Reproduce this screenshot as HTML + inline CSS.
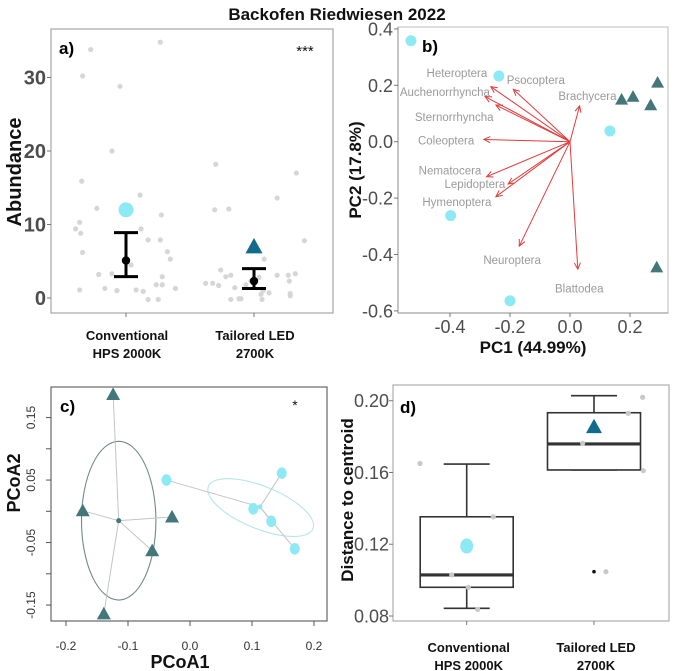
<!DOCTYPE html>
<html><head><meta charset="utf-8"><style>
html,body{margin:0;padding:0;background:#fff;}
svg{display:block;font-family:"Liberation Sans",sans-serif;}
</style></head><body>
<svg id="fig" width="675" height="671" viewBox="0 0 675 671">
<text x="337" y="20" text-anchor="middle" font-size="17" font-weight="bold" fill="#111">Backofen Riedwiesen 2022</text>
<g id="pa"></g>
<g id="pb"></g>
<g id="pc"></g>
<g id="pd"></g>
</svg>
<script>
const NS="http://www.w3.org/2000/svg";
function mk(p,tag,at,txt){const e=document.createElementNS(NS,tag);for(const k in at)e.setAttribute(k,at[k]);if(txt!==undefined)e.textContent=txt;p.appendChild(e);return e;}
function tri(p,cx,cy,s,fill){return mk(p,'polygon',{points:`${cx},${cy-s} ${cx-s},${cy+s*0.8} ${cx+s},${cy+s*0.8}`,fill:fill});}

// ---------- Panel a data ----------
const aCategories=["Conventional","Tailored LED"];
const aCatLine2=["HPS 2000K","2700K"];
const aTicks=[0,10,20,30];
const aMean=[5.1,2.3];
const aLow=[2.9,1.3];
const aHigh=[8.9,4.0];
const aMarker=[12,7];
const aConvVals=[33.8,30.2,28.8,20,15.9,14,12.2,10.3,9.4,8.8,9.4,7.9,7.9,11.3,6.2,6.3,5.3,4.5,3.2,3.3,2.9,1.3,1,1.1,0.9,1.8,1.8,1.3,1.1,-0.2,-0.2,34.8];
const aConvJit=[-0.276,-0.339,-0.047,-0.11,-0.346,0.11,-0.228,-0.362,-0.394,-0.354,0.118,0.173,0.268,0.276,-0.339,0.323,0.346,0.039,-0.213,-0.11,0.283,-0.165,-0.071,0.079,0.134,0.236,0.283,0.386,-0.362,0.173,0.252,0.268];
const aLedVals=[18.2,12,12.1,13.6,17,7.8,5.3,2,2,1.7,3.8,2.9,3.1,1.4,-0.2,-0.1,-0.1,2.3,2.8,1,0.5,0.7,-0.2,3.1,3.1,2.3,3.3,0.6,0.3,1.8];
const aLedJit=[-0.299,-0.307,-0.197,0.181,0.331,0.394,0.079,-0.378,-0.323,-0.276,-0.26,-0.22,-0.181,-0.15,-0.181,-0.118,-0.102,-0.024,0.039,0.071,0.055,0.118,0.063,0.181,0.268,0.276,0.323,0.283,0.283,-0.063];

// ---------- Panel b data ----------
const bTicksX=[-0.4,-0.2,0.0,0.2];
const bTicksY=[0.4,0.2,0.0,-0.2,-0.4,-0.6];
const bCircX=[-0.53,-0.237,0.133,-0.398,-0.2];
const bCircY=[0.358,0.233,0.038,-0.262,-0.564];
const bTriX=[0.172,0.21,0.269,0.292,0.289];
const bTriY=[0.15,0.16,0.13,0.21,-0.445];
const bTaxa=["Heteroptera","Psocoptera","Auchenorrhyncha","Sternorrhyncha","Coleoptera","Nematocera","Lepidoptera","Hymenoptera","Neuroptera","Blattodea","Brachycera"];
const bArrX=[-0.264,-0.189,-0.283,-0.247,-0.287,-0.278,-0.206,-0.247,-0.169,0.026,0.032];
const bArrY=[0.195,0.186,0.16,0.13,0.008,-0.124,-0.15,-0.195,-0.37,-0.452,0.127];
const bLabX=[-0.377,-0.114,-0.417,-0.386,-0.413,-0.4,-0.317,-0.377,-0.193,0.031,0.058];
const bLabY=[0.243,0.219,0.177,0.088,0.004,-0.102,-0.150,-0.213,-0.419,-0.52,0.162];

// ---------- Panel c data ----------
const cTicksX=[-0.2,-0.1,0.0,0.1,0.2];
const cTicksY=[0.15,0.05,-0.05,-0.15];
const cTicksYMinor=[0.1,0,-0.1];
const cTriX=[-0.124,-0.173,-0.029,-0.061,-0.139];
const cTriY=[0.187,0.001,-0.009,-0.063,-0.164];
const cTriCentroid=[-0.115,-0.015];
const cCircX=[-0.038,0.148,0.102,0.131,0.169];
const cCircY=[0.05,0.061,0.004,-0.016,-0.06];
const cCircCentroid=[0.113,0.007];
const cTriEllipse=[-0.115,-0.015,0.06,0.127,0];
const cCircEllipse=[0.114,0.006,0.091,0.034,22];

// ---------- Panel d data ----------
const dCategories=["Conventional","Tailored LED"];
const dCatLine2=["HPS 2000K","2700K"];
const dTicks=[0.08,0.12,0.16,0.20];
const dWhiskLo=[0.0843,0.1614];
const dQ1=[0.096,0.1614];
const dMedian=[0.1029,0.1759];
const dQ3=[0.1353,0.1933];
const dWhiskHi=[0.1647,0.2028];
const dOutlier=[null,0.1047];
const dMeanMarker=[0.119,0.1855];
const dConvVals=[0.165,0.1353,0.1029,0.096,0.0837];
const dConvJit=[-0.367,0.209,-0.118,0.013,0.086];
const dLedVals=[0.2019,0.193,0.1763,0.161,0.1047];
const dLedJit=[0.382,0.269,-0.089,0.387,0.094];

const CYAN="#8de9f4", TEAL="#44777a", BLUE="#106b8c", GRAY="#d6d6d6";

// ===== Panel a =====
(function(){
const g=document.getElementById('pa');
const L=51,T=29,R=333,B=313;
const ya=v=>298-7.35*v, xa=i=>126+i*128;
mk(g,'rect',{x:L,y:T,width:R-L,height:B-T,fill:'none',stroke:'#a6a6a6','stroke-width':1.2});
aTicks.forEach(t=>{
 mk(g,'line',{x1:L-4,x2:L,y1:ya(t),y2:ya(t),stroke:'#777'});
 const e=mk(g,'text',{x:46,y:ya(t)+7,'text-anchor':'end','font-size':20,'font-weight':'bold',fill:'#4d4d4d'},String(t));
 
 
});
const at=mk(g,'text',{transform:'translate(21,172) rotate(-90)','text-anchor':'middle','font-size':20,'font-weight':'bold',fill:'#111'},'Abundance');


aCategories.forEach((c,i)=>{
 mk(g,'line',{x1:xa(i),x2:xa(i),y1:B,y2:B+4,stroke:'#777'});
 const t1=mk(g,'text',{x:xa(i)+1,y:340,'text-anchor':'middle','font-size':13,'font-weight':'bold',fill:'#111'},c);
 
 
 const t2=mk(g,'text',{x:xa(i)+1,y:358,'text-anchor':'middle','font-size':13,'font-weight':'bold',fill:'#111'},aCatLine2[i]);
 
 
});
aConvVals.forEach((v,k)=>{const p=mk(g,'circle',{cx:xa(0+aConvJit[k]),cy:ya(v),r:2.6,fill:GRAY});
 
 });
aLedVals.forEach((v,k)=>{const p=mk(g,'circle',{cx:xa(1+aLedJit[k]),cy:ya(v),r:2.6,fill:GRAY});
 
 });
aMean.forEach((m,i)=>{
 const x=xa(i);
 const eb=mk(g,'g',{});
 
 
 mk(eb,'line',{x1:x,x2:x,y1:ya(aLow[i]),y2:ya(aHigh[i]),stroke:'#000','stroke-width':3});
 mk(eb,'line',{x1:x-12,x2:x+12,y1:ya(aLow[i]),y2:ya(aLow[i]),stroke:'#000','stroke-width':3});
 mk(eb,'line',{x1:x-12,x2:x+12,y1:ya(aHigh[i]),y2:ya(aHigh[i]),stroke:'#000','stroke-width':3});
 mk(eb,'circle',{cx:x,cy:ya(m),r:4.2,fill:'#000'});
});
const mc=mk(g,'circle',{cx:xa(0),cy:ya(aMarker[0]),r:7.5,fill:CYAN});


const mt=tri(g,xa(1),ya(aMarker[1]),8.5,BLUE);


const lab=mk(g,'text',{x:59,y:54,'font-size':17,'font-weight':'bold',fill:'#000'},'a)');


const sg=mk(g,'text',{x:305,y:56,'text-anchor':'middle','font-size':15,fill:'#111'},'***');


})();

// ===== Panel b =====
(function(){
const g=document.getElementById('pb');
const L=398,T=27,R=668,B=313;
const xb=v=>570+300*v, yb=v=>141.7-282*v;
mk(g,'rect',{x:L,y:T,width:R-L,height:B-T,fill:'none',stroke:'#bdbdbd','stroke-width':1});
mk(g,'line',{x1:L,x2:L,y1:T,y2:B,stroke:'#888'});
mk(g,'line',{x1:L,x2:R,y1:B,y2:B,stroke:'#888'});
bTicksY.forEach(t=>{
 mk(g,'line',{x1:L-4,x2:L,y1:yb(t),y2:yb(t),stroke:'#777'});
 const e=mk(g,'text',{x:393,y:yb(t)+6.5,'text-anchor':'end','font-size':18,fill:'#4d4d4d'},t.toFixed(1));
 
 
});
bTicksX.forEach(t=>{
 mk(g,'line',{x1:xb(t),x2:xb(t),y1:B,y2:B+4,stroke:'#777'});
 const e=mk(g,'text',{x:xb(t),y:333,'text-anchor':'middle','font-size':18,fill:'#4d4d4d'},t.toFixed(1));
 
 
});
const xt=mk(g,'text',{x:533,y:353,'text-anchor':'middle','font-size':17,'font-weight':'bold',fill:'#111'},'PC1 (44.99%)');


const yt=mk(g,'text',{transform:'translate(361,170) rotate(-90)','text-anchor':'middle','font-size':17,'font-weight':'bold',fill:'#111'},'PC2 (17.8%)');


const ox=xb(0),oy=yb(0);
bTaxa.forEach((n,i)=>{
 const ex=xb(bArrX[i]),ey=yb(bArrY[i]);
 const ag=mk(g,'g',{stroke:'#e33b3b','stroke-width':1,fill:'none'});
 
 
 mk(ag,'line',{x1:ox,y1:oy,x2:ex,y2:ey});
 const a=Math.atan2(ey-oy,ex-ox),h=7,w=0.45;
 mk(ag,'polyline',{points:`${ex-h*Math.cos(a-w)},${ey-h*Math.sin(a-w)} ${ex},${ey} ${ex-h*Math.cos(a+w)},${ey-h*Math.sin(a+w)}`});
 const t=mk(g,'text',{x:xb(bLabX[i]),y:yb(bLabY[i])+4,'text-anchor':'middle','font-size':11.5,fill:'#9a9a9a'},n);
 
 
});
bCircX.forEach((x,i)=>{const p=mk(g,'circle',{cx:xb(x),cy:yb(bCircY[i]),r:5.5,fill:CYAN});
 
 });
bTriX.forEach((x,i)=>{const p=tri(g,xb(x),yb(bTriY[i]),6.5,TEAL);
 
 });
const lab=mk(g,'text',{x:422,y:52,'font-size':17,'font-weight':'bold',fill:'#000'},'b)');


})();

// ===== Panel c =====
(function(){
const g=document.getElementById('pc');
const L=51,T=387,R=327,B=621;
const xc=v=>190+620*v, yc=v=>511.3-625*v;
mk(g,'rect',{x:L,y:T,width:R-L,height:B-T,fill:'none',stroke:'#666','stroke-width':1.2});
cTicksX.forEach(t=>{
 mk(g,'line',{x1:xc(t),x2:xc(t),y1:B,y2:B+5,stroke:'#555'});
 const e=mk(g,'text',{x:xc(t),y:650,'text-anchor':'middle','font-size':12,fill:'#333'},t.toFixed(1));
 
 
});
cTicksYMinor.forEach(t=>mk(g,'line',{x1:L-5,x2:L,y1:yc(t),y2:yc(t),stroke:'#555'}));
cTicksY.forEach(t=>{
 mk(g,'line',{x1:L-5,x2:L,y1:yc(t),y2:yc(t),stroke:'#555'});
 const e=mk(g,'text',{transform:`translate(35,${yc(t)}) rotate(-90)`,'text-anchor':'middle','font-size':12,fill:'#333'},t.toFixed(2));
 
 
});
const xt=mk(g,'text',{x:180,y:668,'text-anchor':'middle','font-size':18,'font-weight':'bold',fill:'#111'},'PCoA1');


const yt=mk(g,'text',{transform:'translate(20,483) rotate(-90)','text-anchor':'middle','font-size':18,'font-weight':'bold',fill:'#111'},'PCoA2');


function ell(e,col){const el=mk(g,'ellipse',{cx:0,cy:0,rx:e[2]*620,ry:e[3]*625,fill:'none',stroke:col,'stroke-width':1.1,transform:`translate(${xc(e[0])},${yc(e[1])}) rotate(${e[4]})`});return el;}
const e1=ell(cTriEllipse,'#6f8a8b');


const e2=ell(cCircEllipse,'#b5e6ea');


cTriX.forEach((x,i)=>mk(g,'line',{x1:xc(cTriCentroid[0]),y1:yc(cTriCentroid[1]),x2:xc(x),y2:yc(cTriY[i]),stroke:'#c4c4c4','stroke-width':1}));
cCircX.forEach((x,i)=>mk(g,'line',{x1:xc(cCircCentroid[0]),y1:yc(cCircCentroid[1]),x2:xc(x),y2:yc(cCircY[i]),stroke:'#c4c4c4','stroke-width':1}));
const c1=mk(g,'circle',{cx:xc(cTriCentroid[0]),cy:yc(cTriCentroid[1]),r:2.5,fill:TEAL});


const c2=mk(g,'circle',{cx:xc(cCircCentroid[0]),cy:yc(cCircCentroid[1]),r:2.5,fill:CYAN});


cTriX.forEach((x,i)=>{const p=tri(g,xc(x),yc(cTriY[i]),7,TEAL);
 
 });
cCircX.forEach((x,i)=>{const p=mk(g,'ellipse',{cx:xc(x),cy:yc(cCircY[i]),rx:5,ry:5.8,fill:CYAN});
 
 });
const lab=mk(g,'text',{x:60,y:412,'font-size':17,'font-weight':'bold',fill:'#000'},'c)');


const sg=mk(g,'text',{x:295,y:410,'text-anchor':'middle','font-size':14,fill:'#111'},'*');


})();

// ===== Panel d =====
(function(){
const g=document.getElementById('pd');
const L=393,T=385,R=669,B=621;
const yd=v=>616-(v-0.08)*1794, xd=i=>466.7+i*127.3;
mk(g,'rect',{x:L,y:T,width:R-L,height:B-T,fill:'none',stroke:'#a6a6a6','stroke-width':1.1});
dTicks.forEach(t=>{
 mk(g,'line',{x1:L-4,x2:L,y1:yd(t),y2:yd(t),stroke:'#777'});
 const e=mk(g,'text',{x:389,y:yd(t)+6.5,'text-anchor':'end','font-size':18,fill:'#4d4d4d'},t.toFixed(2));
 
 
});
const yt=mk(g,'text',{transform:'translate(353,500) rotate(-90)','text-anchor':'middle','font-size':17,'font-weight':'bold',fill:'#111'},'Distance to centroid');


dCategories.forEach((c,i)=>{
 const x=xd(i);
 mk(g,'line',{x1:x,x2:x,y1:B,y2:B+4,stroke:'#777'});
 const t1=mk(g,'text',{x:x+2,y:652,'text-anchor':'middle','font-size':13,'font-weight':'bold',fill:'#111'},c);
 
 
 const t2=mk(g,'text',{x:x+2,y:670,'text-anchor':'middle','font-size':13,'font-weight':'bold',fill:'#111'},dCatLine2[i]);
 
 
 const bx=mk(g,'g',{stroke:'#333',fill:'none','stroke-width':1.6});
 
 
 mk(bx,'line',{x1:x,x2:x,y1:yd(dWhiskHi[i]),y2:yd(dQ3[i])});
 mk(bx,'line',{x1:x,x2:x,y1:yd(dQ1[i]),y2:yd(dWhiskLo[i])});
 mk(bx,'line',{x1:x-23,x2:x+23,y1:yd(dWhiskHi[i]),y2:yd(dWhiskHi[i])});
 mk(bx,'line',{x1:x-23,x2:x+23,y1:yd(dWhiskLo[i]),y2:yd(dWhiskLo[i])});
 mk(bx,'rect',{x:x-46.5,y:yd(dQ3[i]),width:93,height:yd(dQ1[i])-yd(dQ3[i]),fill:'#fff'});
 mk(bx,'line',{x1:x-46.5,x2:x+46.5,y1:yd(dMedian[i]),y2:yd(dMedian[i]),'stroke-width':3.2});
 if(dOutlier[i]!==null){const o=mk(g,'circle',{cx:x,cy:yd(dOutlier[i]),r:1.8,fill:'#111'});
  
  }
});
dConvVals.forEach((v,k)=>{const p=mk(g,'circle',{cx:xd(0+dConvJit[k]),cy:yd(v),r:2.6,fill:'#c8c8c8'});
 
 });
dLedVals.forEach((v,k)=>{const p=mk(g,'circle',{cx:xd(1+dLedJit[k]),cy:yd(v),r:2.6,fill:'#c8c8c8'});
 
 });
const mc=mk(g,'ellipse',{cx:xd(0),cy:yd(dMeanMarker[0]),rx:6.5,ry:7.5,fill:CYAN});


const mt=tri(g,xd(1),yd(dMeanMarker[1]),8,BLUE);


const lab=mk(g,'text',{x:400,y:413,'font-size':17,'font-weight':'bold',fill:'#000'},'d)');


})();
</script>
</body></html>
